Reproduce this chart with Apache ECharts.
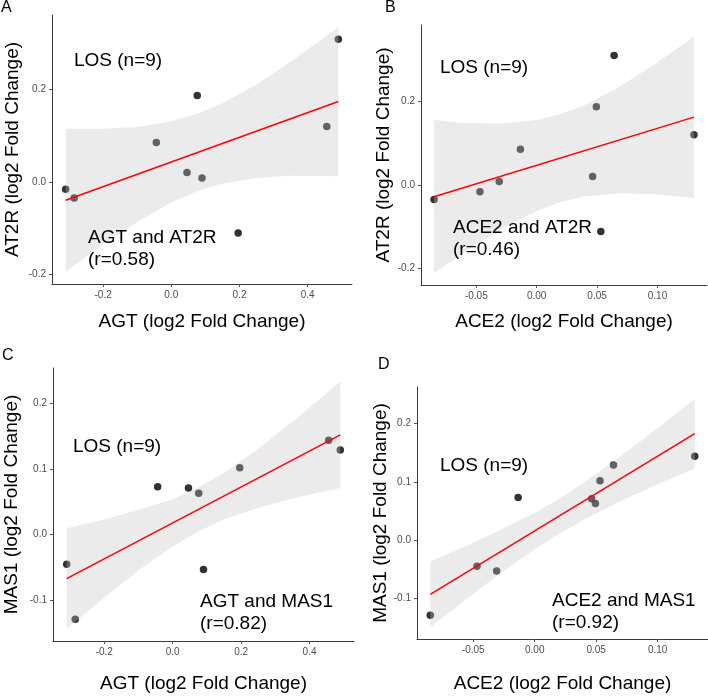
<!DOCTYPE html>
<html>
<head>
<meta charset="utf-8">
<script src="https://cdn.jsdelivr.net/npm/echarts@6/dist/echarts.min.js"></script>
<style>
html,body{margin:0;padding:0;background:#fff;}
#main{width:708px;height:697px;}
</style>
</head>
<body>
<div id="main"></div>
<script>
// log2 fold change per sample (LOS, n=9)
var agt  = [-0.310, -0.285, -0.044, 0.046, 0.090, 0.076, 0.196, 0.456, 0.490];
var ace2 = [-0.047, -0.085, -0.0135, 0.0463, -0.031, 0.0494, 0.0531, 0.1302, 0.0641];
var at2r = [-0.016, -0.035, 0.085, 0.020, 0.008, 0.187, -0.111, 0.120, 0.309];
var mas1 = [-0.045, -0.129, 0.073, 0.071, -0.053, 0.063, 0.102, 0.144, 0.129];

// fitted lines (ends) and confidence band
var fitA = [[-0.31, -0.040], [0.49, 0.174]];
var fitB = [[-0.085, -0.028], [0.1302, 0.162]];
var fitC = [[-0.31, -0.067], [0.49, 0.152]];
var fitD = [[-0.085, -0.0935], [0.1302, 0.183]];

var bandXagt  = [-0.31, -0.2, -0.1, 0, 0.0786, 0.15, 0.25, 0.35, 0.49];
var bandXace2 = [-0.085, -0.06, -0.03, 0, 0.0185, 0.04, 0.07, 0.10, 0.1302];
var bandHiA = [0.115, 0.115, 0.119, 0.131, 0.148, 0.170, 0.211, 0.260, 0.335];
var bandLoA = [-0.195, -0.136, -0.087, -0.045, -0.020, -0.004, 0.008, 0.013, 0.012];
var bandHiB = [0.155, 0.148, 0.147, 0.155, 0.168, 0.191, 0.237, 0.293, 0.354];
var bandLoB = [-0.211, -0.161, -0.106, -0.062, -0.042, -0.027, -0.020, -0.023, -0.031];
var bandHiC = [0.010, 0.023, 0.038, 0.054, 0.073, 0.094, 0.131, 0.172, 0.233];
var bandLoC = [-0.143, -0.096, -0.054, -0.018, 0.006, 0.023, 0.041, 0.055, 0.071];
var bandHiD = [-0.037, -0.014, 0.015, 0.047, 0.069, 0.099, 0.144, 0.192, 0.243];
var bandLoD = [-0.150, -0.109, -0.060, -0.016, 0.009, 0.035, 0.067, 0.096, 0.123];

// tick values
var ticksAgt  = [-0.2, 0, 0.2, 0.4];
var ticksAce2 = [-0.05, 0, 0.05, 0.1];
var ticksAt2r = [-0.2, 0, 0.2];
var ticksMas1 = [-0.1, 0, 0.1, 0.2];

var FONT = 'Liberation Sans, Arial, sans-serif';

var panels = [
  {letter: 'A', x: agt, y: at2r, fit: fitA, bx: bandXagt, hi: bandHiA, lo: bandLoA,
   xname: 'AGT (log2 Fold Change)', yname: 'AT2R (log2 Fold Change)',
   xr: [-0.35, 0.53], yr: [-0.2215, 0.3615], xt: ticksAgt, yt: ticksAt2r, xd: 1, yd: 1,
   grid: {left: 52, top: 15, width: 300, height: 269}, xgap: 28, ygap: 30,
   los: [74, 61], ann: ['AGT and AT2R', '(r=0.58)'], annPos: [88, 237], lpos: [1, 8]},
  {letter: 'B', x: ace2, y: at2r, fit: fitB, bx: bandXace2, hi: bandHiB, lo: bandLoB,
   xname: 'ACE2 (log2 Fold Change)', yname: 'AT2R (log2 Fold Change)',
   xr: [-0.0958, 0.141], yr: [-0.239, 0.382], xt: ticksAce2, yt: ticksAt2r, xd: 2, yd: 1,
   grid: {left: 421, top: 25, width: 286, height: 260}, xgap: 27, ygap: 28,
   los: [440, 68], ann: ['ACE2 and AT2R', '(r=0.46)'], annPos: [453, 227], lpos: [385, 8]},
  {letter: 'C', x: agt, y: mas1, fit: fitC, bx: bandXagt, hi: bandHiC, lo: bandLoC,
   xname: 'AGT (log2 Fold Change)', yname: 'MAS1 (log2 Fold Change)',
   xr: [-0.35, 0.53], yr: [-0.162, 0.254], xt: ticksAgt, yt: ticksMas1, xd: 1, yd: 1,
   grid: {left: 53, top: 368, width: 301, height: 273}, xgap: 33, ygap: 32,
   los: [73, 447], ann: ['AGT and MAS1', '(r=0.82)'], annPos: [200, 601], lpos: [2, 356]},
  {letter: 'D', x: ace2, y: mas1, fit: fitD, bx: bandXace2, hi: bandHiD, lo: bandLoD,
   xname: 'ACE2 (log2 Fold Change)', yname: 'MAS1 (log2 Fold Change)',
   xr: [-0.0958, 0.141], yr: [-0.170, 0.263], xt: ticksAce2, yt: ticksMas1, xd: 2, yd: 1,
   grid: {left: 417, top: 387, width: 291, height: 252}, xgap: 35, ygap: 27,
   los: [440, 466], ann: ['ACE2 and MAS1', '(r=0.92)'], annPos: [552, 600], lpos: [378, 365]}
];

var grids = [], xAxes = [], yAxes = [], series = [], graphics = [];

panels.forEach(function (p, i) {
  grids.push({left: p.grid.left, top: p.grid.top, width: p.grid.width, height: p.grid.height, containLabel: false});
  var axisCommon = {
    type: 'value',
    splitLine: {show: false},
    axisLine: {show: true, onZero: false, lineStyle: {color: '#3a3a3a', width: 1}},
    nameLocation: 'middle',
    nameTextStyle: {fontFamily: FONT, fontSize: 19, color: '#000'}
  };
  xAxes.push(Object.assign({}, axisCommon, {
    gridIndex: i, min: p.xr[0], max: p.xr[1],
    name: p.xname, nameGap: p.xgap,
    axisTick: {show: true, length: 3, lineStyle: {color: '#555'}, customValues: p.xt},
    axisLabel: {customValues: p.xt, margin: 6, fontFamily: FONT, fontSize: 10, color: '#4d4d4d',
      formatter: function (v) { return v.toFixed(p.xd); }}
  }));
  yAxes.push(Object.assign({}, axisCommon, {
    gridIndex: i, min: p.yr[0], max: p.yr[1],
    name: p.yname, nameGap: p.ygap,
    axisTick: {show: true, length: 3, lineStyle: {color: '#555'}, customValues: p.yt},
    axisLabel: {customValues: p.yt, margin: 6, fontFamily: FONT, fontSize: 10, color: '#4d4d4d',
      formatter: function (v) { return v.toFixed(p.yd); }}
  }));

  // points (drawn first, the band shades the ones inside it)
  series.push({
    type: 'scatter', xAxisIndex: i, yAxisIndex: i, z: 1,
    symbolSize: 7.5, itemStyle: {color: '#000'},
    data: p.x.map(function (v, k) { return [v, p.y[k]]; })
  });
  // confidence band
  series.push({
    type: 'custom', xAxisIndex: i, yAxisIndex: i, z: 2, silent: true,
    data: p.bx.map(function (v, k) { return [v, p.lo[k], p.hi[k]]; }),
    encode: {x: 0, y: [1, 2]},
    renderItem: function (params, api) {
      if (params.dataIndex !== 0) return null;
      var pts = [];
      for (var k = 0; k < p.bx.length; k++) pts.push(api.coord([p.bx[k], p.hi[k]]));
      for (var k2 = p.bx.length - 1; k2 >= 0; k2--) pts.push(api.coord([p.bx[k2], p.lo[k2]]));
      return {type: 'polygon', shape: {points: pts}, style: {fill: 'rgba(195,195,195,0.33)'}};
    }
  });
  // regression line
  series.push({
    type: 'line', xAxisIndex: i, yAxisIndex: i, z: 3, silent: true,
    symbol: 'none', lineStyle: {color: '#ff0000', width: 1.5},
    data: p.fit
  });

  graphics.push({type: 'text', z: 100, left: p.los[0], top: p.los[1] - 10,
    style: {text: 'LOS (n=9)', font: '19px ' + FONT, fill: '#000'}});
  graphics.push({type: 'text', z: 100, left: p.annPos[0], top: p.annPos[1] - 10,
    style: {text: p.ann[0] + '\n' + p.ann[1], font: '19px ' + FONT, fill: '#000', lineHeight: 22}});
  graphics.push({type: 'text', z: 100, left: p.lpos[0], top: p.lpos[1] - 8,
    style: {text: p.letter, font: '16px ' + FONT, fill: '#000'}});
});

var myChart = echarts.init(document.getElementById('main'), null, {renderer: 'canvas'});
myChart.setOption({
  animation: false,
  backgroundColor: '#fff',
  grid: grids,
  xAxis: xAxes,
  yAxis: yAxes,
  series: series,
  graphic: graphics
});
</script>
</body>
</html>
